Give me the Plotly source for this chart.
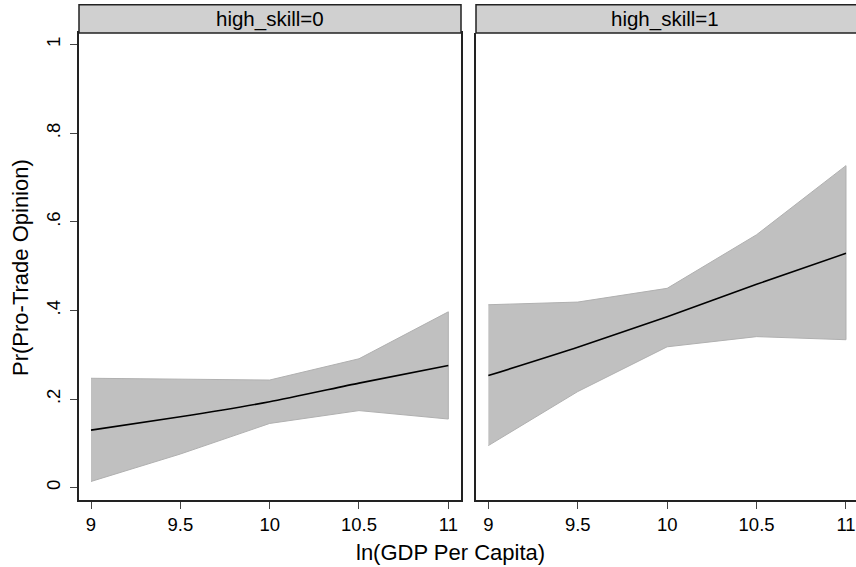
import plotly.graph_objects as go

x_vals = [9, 9.5, 10, 10.5, 11]

# high_skill = 0
pred0 = [0.130, 0.160, 0.194, 0.236, 0.276]
upper0 = [0.247, 0.245, 0.243, 0.291, 0.397]
lower0 = [0.014, 0.076, 0.145, 0.174, 0.155]

# high_skill = 1
pred1 = [0.253, 0.317, 0.386, 0.459, 0.529]
upper1 = [0.413, 0.419, 0.450, 0.571, 0.727]
lower1 = [0.095, 0.217, 0.318, 0.341, 0.334]

panel_titles = ["high_skill=0", "high_skill=1"]
y_ticks = [0, 0.2, 0.4, 0.6, 0.8, 1]
y_ticklabels = ["0", ".2", ".4", ".6", ".8", "1"]
x_ticks = [9, 9.5, 10, 10.5, 11]
x_ticklabels = ["9", "9.5", "10", "10.5", "11"]

FONT = "Liberation Sans, Arial, Helvetica, sans-serif"
TICK_SIZE = 18.5
fig = go.Figure()

for i, (pred, up, lo) in enumerate([(pred0, upper0, lower0), (pred1, upper1, lower1)]):
    xa = "x" if i == 0 else "x2"
    ya = "y" if i == 0 else "y2"
    fig.add_trace(go.Scatter(
        x=x_vals + x_vals[::-1], y=up + lo[::-1], fill="toself",
        fillcolor="#C0C0C0", line=dict(color="#B0B0B0", width=1),
        mode="lines", xaxis=xa, yaxis=ya, showlegend=False, hoverinfo="skip"))
    fig.add_trace(go.Scatter(
        x=x_vals, y=pred, mode="lines", line=dict(color="black", width=1.6, shape="spline", smoothing=0.6),
        xaxis=xa, yaxis=ya, showlegend=False))

W, H = 856, 567
ml, mr, mt, mb = 79, 0, 33, 67
pw = W - ml - mr
ph = H - mt - mb
d0 = [0, (461 - ml) / pw]
d1 = [(476 - ml) / pw, 1]

xcommon = dict(tickmode="array", tickvals=x_ticks, ticktext=x_ticklabels,
               ticks="outside", ticklen=7, tickwidth=1, tickcolor="#444",
               showline=True, linecolor="#222", linewidth=1.5,
               showgrid=False, zeroline=False,
               tickfont=dict(family=FONT, size=TICK_SIZE, color="black"))

fig.update_layout(
    width=W, height=H,
    margin=dict(l=ml, r=mr, t=mt, b=mb),
    paper_bgcolor="white", plot_bgcolor="white",
    font=dict(family=FONT, color="black"),
    xaxis=dict(domain=d0, range=[8.9328, 11.071], anchor="y", mirror=True, **xcommon),
    xaxis2=dict(domain=d1, range=[8.931, 11.056], anchor="y2", **xcommon),
    yaxis=dict(domain=[0, 1], range=[-0.0278, 1.0264], anchor="x",
               tickmode="array", tickvals=y_ticks, ticktext=y_ticklabels,
               ticks="outside", ticklen=7, tickwidth=1, tickcolor="#444",
               tickangle=-90, ticklabelstandoff=3,
               showline=True, linecolor="#222", linewidth=1.5, mirror=True,
               showgrid=False, zeroline=False,
               tickfont=dict(family=FONT, size=TICK_SIZE, color="black")),
    yaxis2=dict(domain=[0, 1], range=[-0.0278, 1.0264], anchor="x2",
                showticklabels=False, ticks="",
                showline=True, linecolor="#222", linewidth=1.5,
                showgrid=False, zeroline=False),
)

hdr_h = 28.3 / ph
for d, title in zip([d0, d1], panel_titles):
    x1 = d[1] if d[1] < 1 else 1.01
    fig.add_shape(type="rect", xref="paper", yref="paper",
                  x0=d[0], x1=x1, y0=1, y1=1 + hdr_h,
                  fillcolor="#D0D0D0", line=dict(color="#222", width=1.5), layer="above")
    cx = (d[0] + d[1]) / 2 if d[1] < 1 else (d[0] + (853 - ml) / pw) / 2
    fig.add_annotation(x=cx, y=1 + hdr_h / 2, xref="paper", yref="paper",
                       text=title, showarrow=False, xanchor="center", yanchor="middle",
                       font=dict(family=FONT, size=20.5, color="black"))

fig.add_annotation(x=(450 - ml) / pw, y=-(552 - (H - mb)) / ph, xref="paper", yref="paper",
                   text="ln(GDP Per Capita)", showarrow=False, xanchor="center", yanchor="middle",
                   font=dict(family=FONT, size=22, color="black"))
fig.add_annotation(x=(20 - ml) / pw, y=1 - (268 - mt) / ph, xref="paper", yref="paper",
                   text="Pr(Pro-Trade Opinion)", showarrow=False, textangle=-90,
                   xanchor="center", yanchor="middle",
                   font=dict(family=FONT, size=22, color="black"))

fig.write_html("out.html")
